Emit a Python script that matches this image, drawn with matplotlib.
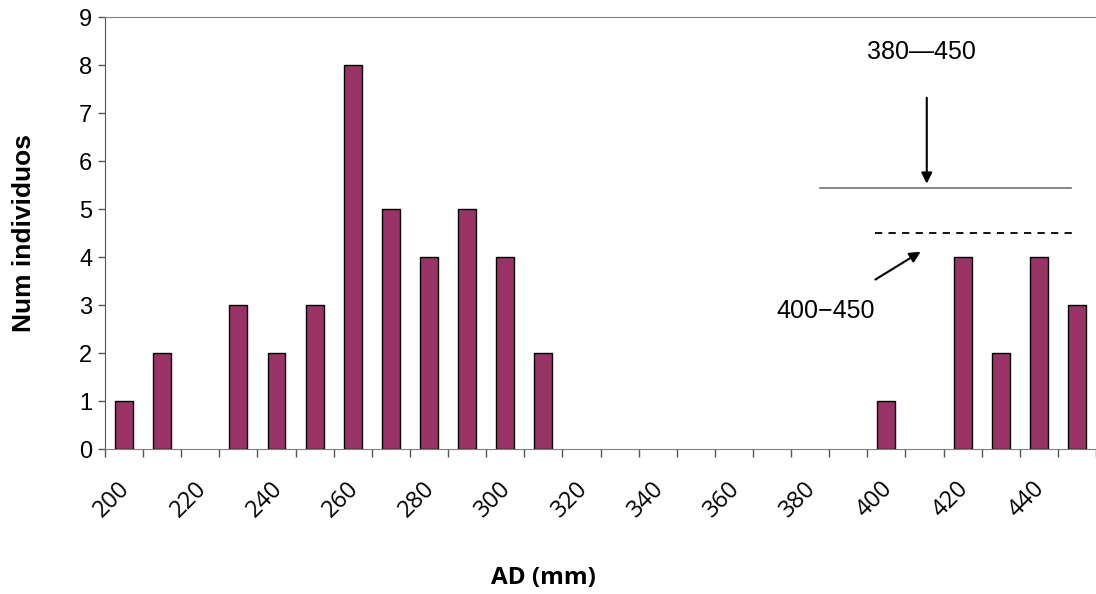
import numpy as np
import matplotlib
matplotlib.use("Agg")
import matplotlib.pyplot as plt
from matplotlib.transforms import ScaledTranslation

# class centres (mm) and counts
ad_classes = list(range(200, 460, 10))
counts = [1, 2, 0, 3, 2, 3, 8, 5, 4, 5, 4, 2, 0, 0, 0, 0, 0, 0, 0, 0, 1, 0, 4, 2, 4, 3]
tick_labels = [str(v) if v % 20 == 0 else "" for v in ad_classes]

bar_color = "#993366"

fig = plt.figure(figsize=(10.96, 5.94), dpi=100)
ax = fig.add_axes([105 / 1096, 1 - 449 / 594, 1 - 105 / 1096, (449 - 17) / 594])

x = np.arange(len(ad_classes))
# empty classes get no outline, as in the original
edges = ["black" if c > 0 else "none" for c in counts]
ax.bar(x, counts, width=0.47, color=bar_color, edgecolor=edges, linewidth=1.0, zorder=2)

ax.set_xlim(-0.5, len(ad_classes) - 0.5)
ax.set_ylim(0, 9)
ax.set_yticks(range(0, 10))
ax.tick_params(axis="y", direction="out", length=5, width=1, color="#555555",
               labelsize=17, pad=4)
for lab in ax.get_yticklabels():
    lab.set_fontfamily("Liberation Sans")

# category labels at centres, tick marks between categories
ax.set_xticks(x)
ax.set_xticklabels(tick_labels, rotation=45, ha="right", va="top",
                   rotation_mode="anchor", fontfamily="Open Sans", fontsize=17)
ax.tick_params(axis="x", which="major", length=0, pad=20)
shift = ScaledTranslation(-6 / 100, 0, fig.dpi_scale_trans)
for lab in ax.get_xticklabels():
    lab.set_transform(lab.get_transform() + shift)
ax.set_xticks(np.arange(len(ad_classes) + 1) - 0.5, minor=True)
ax.tick_params(axis="x", which="minor", direction="out", length=6, width=1, color="#555555")

ax.spines["top"].set_color("#808080")
ax.spines["left"].set_color("#555555")
ax.spines["bottom"].set_color("#808080")
ax.spines["right"].set_visible(False)

ax.set_ylabel("Num individuos", fontfamily="Liberation Sans", fontweight="bold", fontsize=19)
ax.yaxis.set_label_coords(-69 / 991, 0.5)
ax.set_xlabel("AD (mm)", fontfamily="Open Sans", fontweight="bold", fontsize=17.5, va="center")
ax.xaxis.set_label_coords(438 / 991, -(578 - 449) / 432)

# annotations for the two class ranges
ax.plot([18.26, 24.84], [5.44, 5.44], color="#707070", linewidth=1.2, zorder=4)
ax.plot([19.7, 24.95], [4.5, 4.5], color="black", linewidth=1.3, linestyle=(0, (4, 3.5)), zorder=4)
ax.annotate("", xy=(21.06, 5.47), xytext=(21.06, 7.375),
            arrowprops=dict(arrowstyle="-|>", color="black", lw=1.5, mutation_scale=16))
ax.annotate("", xy=(20.96, 4.14), xytext=(19.65, 3.5),
            arrowprops=dict(arrowstyle="-|>", color="black", lw=1.5, mutation_scale=16))
ax.text(20.93, 8.27, "380\u2014450", ha="center", va="center", fontsize=18,
        fontfamily="Liberation Sans")
ax.text(18.4, 2.87, "400\u2212450", ha="center", va="center", fontsize=18,
        fontfamily="Liberation Sans")

fig.savefig("out.png", dpi=100)
